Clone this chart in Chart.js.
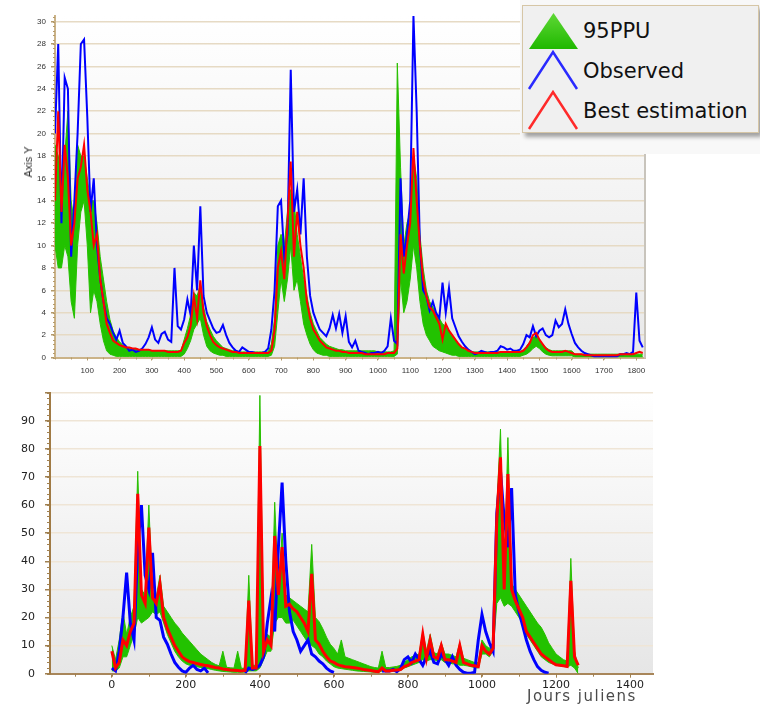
<!DOCTYPE html>
<html>
<head>
<meta charset="utf-8">
<script src="https://cdn.jsdelivr.net/npm/chart.js@4.4.1/dist/chart.umd.min.js"></script>
<style>
    body { margin: 0; background: #fff; }
    #page { position: relative; width: 760px; height: 707px; overflow: hidden; background: #fff; }
    canvas { position: absolute; left: 0; }
    #topChart { top: 0; }
    #bottomChart { top: 376px; }
    .axis-y {
        position: absolute; left: 28px; top: 162px;
        transform: translate(-50%, -50%) rotate(-90deg);
        font: 11px "Liberation Sans"; color: #333; white-space: nowrap;
    }
    .jours { position: absolute; left: 527px; top: 687px; font: 15px "DejaVu Sans"; letter-spacing: 1.5px; color: #4a4a4a; white-space: nowrap; }
    #patch { position: absolute; left: 520px; top: 0; width: 240px; height: 154px; background: #f8f8f8; }
    #legend {
        position: absolute; left: 522px; top: 5px; width: 235px; height: 126px;
        background: #f0f0f0; border: 1px solid #d6c6a6;
        box-shadow: 3px 4px 4px rgba(0, 0, 0, 0.35);
    }
    #legend svg { position: absolute; left: 0; top: 0; }
    #legend text { font: 21px "DejaVu Sans"; fill: #111; }
</style>
</head>
<body>
<div id="page">
    <canvas id="topChart" width="760" height="380"></canvas>
    <canvas id="bottomChart" width="760" height="331"></canvas>
    <div class="axis-y">Axis Y</div>
    <div class="jours">Jours juliens</div>
    <div id="patch"></div>
    <div id="legend">
        <svg width="235" height="126">
            <defs>
                <linearGradient id="tri" x1="0" y1="0" x2="0" y2="1">
                    <stop offset="0" stop-color="#5fd836"/>
                    <stop offset="1" stop-color="#1fb800"/>
                </linearGradient>
            </defs>
            <polygon points="30.5,7 6,43 55,43" fill="url(#tri)"/>
            <polyline points="6,83 30,46 54,83" fill="none" stroke="#2a2aff" stroke-width="2.5"/>
            <polyline points="6,123 30,86 54,123" fill="none" stroke="#ff2a2a" stroke-width="2.5"/>
            <text x="60" y="32">95PPU</text>
            <text x="60" y="72">Observed</text>
            <text x="60" y="112">Best estimation</text>
        </svg>
    </div>
</div>
<script>
// sampling step (days) of every series below
const stepTop = 10;
const stepBottom = 10;

// ---- top panel, day 0 .. 1820 ----
const obsTop = [
    20, 28, 12, 25, 24, 9, 14, 20, 28, 28.4,
    21.5, 13, 16, 10, 7, 5, 3.5, 3, 2.2, 1.6,
    2.4, 1.3, 1.0, 0.6, 0.7, 0.5, 0.6, 0.8, 1.2, 1.8,
    2.7, 1.6, 1.3, 2.1, 2.3, 1.6, 1.4, 8, 2.8, 2.5,
    3.4, 5.2, 3.8, 10, 6, 13.5, 5.5, 4, 3.3, 2.6,
    2.2, 2.3, 2.9, 2.0, 1.3, 0.9, 0.6, 0.5, 0.9, 0.7,
    0.5, 0.5, 0.4, 0.4, 0.4, 0.5, 0.8, 2.5, 6, 13.5,
    14, 9, 11, 25.7, 13, 15, 11, 16, 9, 5.5,
    4, 3.2, 2.5, 2.2, 1.9, 2.6, 3.8, 2.6, 3.9, 2.2,
    3.7, 1.4, 0.9, 1.5, 0.6, 0.5, 0.4, 0.3, 0.4, 0.4,
    0.5, 0.4, 0.6, 1.0, 3.5, 1.5, 1.2, 16, 9, 11,
    14, 30.5, 22, 10, 6, 5.5, 4.2, 5, 4, 3.5,
    6.7, 4, 6.2, 3.5, 2.7, 1.9, 1.4, 1.0, 0.7, 0.5,
    0.3, 0.4, 0.6, 0.5, 0.4, 0.5, 0.5, 0.6, 1.0, 0.9,
    0.7, 0.8, 0.6, 0.6, 0.7, 1.2, 2.0, 1.8, 2.8, 1.9,
    2.4, 2.6, 2.0, 1.8, 2.0, 3.3, 2.7, 3.0, 4.3, 3.0,
    2.1, 1.3, 0.9, 0.6, 0.4, 0.3, 0.2, 0.1, 0.1, 0.1,
    0.1, 0.1, 0.1, 0.1, 0.1, 0.3, 0.3, 0.4, 0.3, 0.5,
    5.8, 1.5, 0.9
];
const bestTop = [
    14, 22, 13, 19, 16, 10, 12, 16, 17, 19,
    15, 13, 10, 11, 7, 5, 3, 2.2, 1.5, 1.3,
    1.1, 1.0, 0.9, 0.9, 0.8, 0.8, 0.7, 0.7, 0.7, 0.7,
    0.6, 0.6, 0.6, 0.6, 0.6, 0.5, 0.5, 0.5, 0.5, 0.6,
    1.3, 1.8, 2.8, 5.5, 3.5, 6.9, 4.0, 2.8, 2.0, 1.4,
    1.1, 0.9, 0.8, 0.7, 0.6, 0.5, 0.5, 0.4, 0.4, 0.4,
    0.4, 0.4, 0.4, 0.4, 0.4, 0.4, 0.4, 0.6, 2.5, 8,
    9.5, 7, 12, 17.5, 9, 13, 10, 8, 5, 3.5,
    2.5, 2.0, 1.5, 1.2, 0.9, 0.8, 0.7, 0.6, 0.6, 0.5,
    0.5, 0.4, 0.4, 0.4, 0.4, 0.4, 0.3, 0.3, 0.3, 0.3,
    0.3, 0.3, 0.3, 0.4, 0.4, 0.4, 0.8, 11, 7.5, 10,
    12, 18.7, 14, 10, 7, 5.5, 4.5, 4.2, 3.6, 3.0,
    1.6, 3.0, 2.4, 2.0, 1.6, 1.2, 0.9, 0.8, 0.6, 0.5,
    0.4, 0.4, 0.4, 0.4, 0.4, 0.4, 0.4, 0.4, 0.5, 0.5,
    0.5, 0.5, 0.5, 0.5, 0.5, 0.6, 0.9, 1.3, 2.0, 2.2,
    1.6, 1.2, 0.8, 0.6, 0.5, 0.5, 0.5, 0.5, 0.6, 0.5,
    0.4, 0.3, 0.3, 0.3, 0.2, 0.2, 0.2, 0.2, 0.2, 0.2,
    0.2, 0.2, 0.2, 0.2, 0.2, 0.3, 0.3, 0.3, 0.3, 0.3,
    0.4, 0.5, 0.4
];
const ppuLowTop = [
    10, 8, 8, 10, 9, 5, 3.5, 10, 13, 14,
    10, 4, 6, 5, 3, 1.5, 0.6, 0.3, 0.2, 0.1,
    0.1, 0.1, 0.1, 0.1, 0.1, 0.1, 0.1, 0.1, 0.1, 0.1,
    0.1, 0.1, 0.1, 0.1, 0.1, 0.1, 0.1, 0.1, 0.1, 0.1,
    0.3, 0.8, 1.5, 2.5, 3, 3.5, 2, 1, 0.6, 0.4,
    0.3, 0.2, 0.2, 0.1, 0.1, 0.1, 0.1, 0.1, 0.1, 0.1,
    0.1, 0.1, 0.1, 0.1, 0.1, 0.1, 0.1, 0.2, 1, 4,
    7, 5, 7, 10, 6, 7, 5, 3, 2, 1.2,
    0.7, 0.4, 0.3, 0.2, 0.2, 0.1, 0.1, 0.1, 0.1, 0.1,
    0.1, 0.1, 0.1, 0.1, 0.1, 0.1, 0.1, 0.1, 0.1, 0.1,
    0.1, 0.1, 0.1, 0.1, 0.1, 0.1, 0.3, 7, 4, 5,
    7, 10, 8, 5, 3, 2, 1.5, 1, 0.8, 0.6,
    0.5, 0.4, 0.3, 0.2, 0.2, 0.1, 0.1, 0.1, 0.1, 0.1,
    0.1, 0.1, 0.1, 0.1, 0.1, 0.1, 0.1, 0.1, 0.1, 0.1,
    0.1, 0.1, 0.1, 0.1, 0.1, 0.2, 0.3, 0.5, 0.8, 1.0,
    0.8, 0.5, 0.3, 0.2, 0.15, 0.15, 0.15, 0.15, 0.15, 0.15,
    0.15, 0.05, 0.05, 0.05, 0.05, 0.05, 0.05, 0.05, 0.05, 0.05,
    0.05, 0.05, 0.05, 0.05, 0.05, 0.05, 0.05, 0.05, 0.05, 0.05,
    0.05, 0.05, 0.05
];
const ppuHighTop = [
    19, 18, 16, 18, 22, 14, 12, 19, 18, 18,
    16, 14, 14, 12, 9, 7, 5, 3.4, 2.4, 1.8,
    1.4, 1.1, 0.9, 0.9, 0.8, 0.8, 0.7, 0.7, 0.7, 0.7,
    0.6, 0.6, 0.6, 0.6, 0.6, 0.6, 0.6, 0.6, 0.6, 0.6,
    1.6, 2.6, 3.8, 5.8, 5.5, 6.5, 4.5, 3.2, 2.5, 1.9,
    1.5, 1.2, 0.9, 0.8, 0.7, 0.6, 0.6, 0.5, 0.5, 0.5,
    0.5, 0.5, 0.5, 0.5, 0.5, 0.5, 0.5, 1.2, 3.5, 10,
    11, 10, 13, 15, 14, 11, 9, 7, 5.5, 4,
    3, 2.4, 1.8, 1.5, 1.2, 1.0, 0.9, 0.8, 0.7, 0.7,
    0.6, 0.6, 0.6, 0.6, 0.6, 0.6, 0.6, 0.6, 0.6, 0.6,
    0.5, 0.5, 0.5, 0.5, 0.5, 0.6, 26.3, 17, 10, 12,
    13, 18, 16, 11, 8, 6, 5, 4.5, 4, 3.5,
    3, 2.8, 2.4, 2, 1.6, 1.2, 0.9, 0.7, 0.6, 0.5,
    0.5, 0.5, 0.5, 0.5, 0.5, 0.5, 0.5, 0.5, 0.5, 0.5,
    0.5, 0.5, 0.5, 0.5, 0.5, 0.7, 1.0, 1.4, 1.8, 1.9,
    1.6, 1.2, 0.9, 0.7, 0.6, 0.6, 0.6, 0.6, 0.6, 0.6,
    0.6, 0.3, 0.3, 0.3, 0.3, 0.3, 0.3, 0.3, 0.3, 0.3,
    0.3, 0.3, 0.3, 0.3, 0.3, 0.3, 0.3, 0.3, 0.3, 0.3,
    0.3, 0.3, 0.3
];
const yTicksTop = [0, 2, 4, 6, 8, 10, 12, 14, 16, 18, 20, 22, 24, 26, 28, 30];
const xTicksTop = [100, 200, 300, 400, 500, 600, 700, 800, 900, 1000, 1100, 1200, 1300, 1400, 1500, 1600, 1700, 1800];

// ---- bottom panel, day 0 .. 1260 ----
const obsBottom = [
    2, 1, 8, 20, 36, 18, 12, 45, 60, 35,
    30, 43, 20, 19, 13, 10.5, 7, 4, 2.3, 1,
    0.5, 2, 3, 1.5, 1, 2, 0.3, null, null, null,
    null, null, null, null, null, null, 0.3, 2, 1.5, 2,
    3, 6, 18, 27, 15, 45, 68, 40, 22, 15,
    12, 8, 10, 12, 7, 6, 4.5, 3.5, 2, 1,
    0.5, null, null, null, null, null, null, null, null, null,
    null, null, null, 1, 1, 1, 1.5, 0.7, 1.8, 5,
    6, 4, 7, 5, 3, 6, 8, 4, 3.5, 7,
    5, 3, 6, 3, 1.5, 0.5, 0.2, 0.2, 0.5, 12,
    21, 15, 11, 8, 57, 72, 55, 45, 66, 28,
    22, 17, 12, 8, 5, 2.5, 1.2, 0.5, 0.2, null,
    null, null, null, null, null, null, null
];
const bestBottom = [
    8, 2, 4, 12, 10, 15, 18, 64, 28, 25,
    52, 27, 25, 32, 20, 16, 13, 10, 8, 6,
    5, 4.3, 4, 3.6, 3.3, 3, 2.8, 2.5, 2.2, 2,
    1.7, 1.5, 1.3, 1.2, 1.1, 1.0, 1.2, 26, 2, 2,
    81, 8, 12, 10, 49, 28, 45, 24, 24.7, 23,
    22, 20, 18, 15, 35.5, 12, 10.5, 8, 6, 4.5,
    4, 3.2, 2.8, 2.5, 2.4, 2.2, 2, 1.8, 1.5, 1.3,
    1.1, 0.9, 0.7, 2, 1, 1, 1.2, 1.3, 1.5, 2.5,
    3, 4, 4.5, 5, 14, 5.5, 12, 6, 5.5, 10,
    5, 5, 4.5, 4, 10, 4, 3.5, 3, 2.8, 2.5,
    10, 8, 7, 9, 55, 77, 30, 71, 30, 26,
    23, 20, 15, 13, 11, 9, 7, 6, 5, 4,
    3.2, 3, 2.8, 2.6, 33, 6, 3
];
const ppuLowBottom = [
    1, 1, 2, 6, 6, 10, 14, 20, 18, 19,
    20, 22, 21, 22, 18, 14, 11, 8, 6, 4.5,
    3.5, 3, 2.8, 2.5, 2.2, 2, 1.8, 1.5, 1.2, 1.0,
    0.8, 0.7, 0.6, 0.5, 0.5, 0.5, 0.6, 1, 1, 1,
    2, 5, 8, 8, 18, 20, 20, 18, 18, 19,
    17, 15, 13, 11, 10, 9, 7, 6, 4.5, 3.5,
    2.5, 2, 1.8, 1.6, 1.4, 1.2, 1.0, 0.9, 0.8, 0.7,
    0.6, 0.5, 0.4, 1, 0.8, 0.8, 0.9, 1, 1.2, 2,
    2.5, 3, 3.5, 4, 5, 4.5, 5, 5, 4.5, 5,
    4, 4, 3.5, 3.5, 3, 3, 2.8, 2.5, 2.2, 2,
    7, 7, 6, 8, 25, 27, 24, 25, 24, 22,
    20, 18, 14, 12, 10, 8, 6, 5, 4, 3.5,
    3, 2.8, 2.6, 2.4, 3, 2, 0
];
const ppuHighBottom = [
    10, 5, 12, 22, 14, 20, 24, 72, 30, 28,
    60, 29, 27, 35, 24, 22, 20, 18, 16.5, 14.5,
    13, 11.5, 10, 8.5, 7, 6, 5, 4, 3.3, 2.8,
    8, 2.3, 2.1, 2, 8, 1.9, 2, 35, 3, 3,
    99, 10, 14, 13, 61, 30, 50, 28, 27, 26,
    25, 24, 23, 22, 46, 20, 18.5, 16, 13, 10.5,
    9, 7, 12, 6, 5.5, 5, 4.5, 4, 3.5, 3,
    2.5, 2.2, 2, 8, 2.2, 2.2, 2.4, 2.6, 3, 4,
    5, 6, 6.5, 7, 15, 8, 14, 7.5, 7, 11,
    7, 7, 6.5, 6, 11, 5.5, 5, 4.5, 4, 4,
    12, 10, 9, 11, 59, 87, 34, 84, 32, 30,
    28, 26, 24, 22, 20, 18, 16.5, 14, 11, 9,
    7, 6, 5, 4.5, 41, 8, 2
];
const yTicksBottom = [0, 10, 20, 30, 40, 50, 60, 70, 80, 90, 100];
const xTicksBottom = [0, 200, 400, 600, 800, 1000, 1200, 1400];

function toPoints(values, step) {
    return values.map((v, i) => ({ x: i * step, y: v }));
}

// gradient behind the plot area
const plotBackground = {
    id: 'plotBackground',
    beforeDraw(chart, args, opts) {
        const { ctx, chartArea: a } = chart;
        const g = ctx.createLinearGradient(0, a.top, 0, a.bottom);
        g.addColorStop(0, opts.top);
        g.addColorStop(1, opts.bottom);
        ctx.save();
        ctx.fillStyle = g;
        ctx.fillRect(a.left, a.top, a.right - a.left, a.bottom - a.top);
        ctx.restore();
    }
};

// small ticks between the labelled ones, plus an optional right frame
const minorTicks = {
    id: 'minorTicks',
    afterDraw(chart, args, opts) {
        const { ctx, chartArea: a, scales: { x, y } } = chart;
        ctx.save();
        ctx.strokeStyle = opts.color;
        ctx.lineWidth = 1;
        ctx.beginPath();
        const ny = Math.floor((y.max - y.min) / opts.yStep + 1e-6);
        for (let i = 0; i <= ny; i++) {
            const p = Math.round(y.getPixelForValue(y.min + i * opts.yStep)) + 0.5;
            ctx.moveTo(a.left - opts.len, p);
            ctx.lineTo(a.left, p);
        }
        const x0 = Math.ceil(x.min / opts.xStep) * opts.xStep;
        for (let v = x0; v <= x.max; v += opts.xStep) {
            const p = Math.round(x.getPixelForValue(v)) + 0.5;
            ctx.moveTo(p, a.bottom);
            ctx.lineTo(p, a.bottom + opts.len);
        }
        ctx.stroke();
        if (opts.rightBorder) {
            ctx.strokeStyle = opts.rightBorder;
            ctx.lineWidth = 2;
            ctx.beginPath();
            ctx.moveTo(a.right, a.top);
            ctx.lineTo(a.right, a.bottom + 1);
            ctx.stroke();
        }
        ctx.restore();
    }
};

function makeDatasets(best, obs, high, low, step, widths) {
    return [
        { label: 'Best estimation', data: toPoints(best, step), borderColor: '#ff0000', borderWidth: widths[0], fill: false },
        { label: 'Observed', data: toPoints(obs, step), borderColor: '#0000ff', borderWidth: widths[1], fill: false },
        { label: '95PPU', data: toPoints(high, step), borderColor: '#28c000', borderWidth: 1, backgroundColor: '#22c200', fill: '+1' },
        { label: '95PPU low', data: toPoints(low, step), borderColor: '#28c000', borderWidth: 1, fill: false }
    ];
}

const topFont = { family: 'Liberation Sans', size: 8 };
const bottomFont = { family: 'DejaVu Sans', size: 11 };
const plain = v => String(v);

new Chart(document.getElementById('topChart'), {
    type: 'line',
    data: { datasets: makeDatasets(bestTop, obsTop, ppuHighTop, ppuLowTop, stepTop, [2, 2]) },
    options: {
        responsive: false,
        animation: false,
        events: [],
        layout: { padding: { left: 0, right: 115, top: 16, bottom: 0 } },
        elements: { point: { radius: 0 }, line: { tension: 0 } },
        scales: {
            x: {
                type: 'linear', min: 0, max: 1827,
                afterBuildTicks: s => { s.ticks = xTicksTop.map(v => ({ value: v })); },
                afterFit: s => { s.height = 22.5; },
                grid: { drawOnChartArea: false, tickLength: 3, tickColor: '#b49a6a' },
                border: { color: '#cbb388', width: 2 },
                ticks: { font: topFont, color: '#333', padding: 5, maxRotation: 0, autoSkip: false, callback: plain }
            },
            y: {
                min: 0, max: 30.5,
                afterBuildTicks: s => { s.ticks = yTicksTop.map(v => ({ value: v })); },
                afterFit: s => { s.width = 55; },
                grid: { color: '#e6dac4', lineWidth: 1.5, tickLength: 4, tickColor: '#b49a6a' },
                border: { color: '#cbb388', width: 2 },
                ticks: { font: topFont, color: '#333', padding: 5, callback: plain }
            }
        },
        plugins: {
            legend: { display: false },
            tooltip: { enabled: false },
            plotBackground: { top: '#ffffff', bottom: '#e9e9e9' },
            minorTicks: { yStep: 0.4, xStep: 50, len: 2, color: '#b49a6a', rightBorder: '#c8c4bc' }
        }
    },
    plugins: [plotBackground, minorTicks]
});

new Chart(document.getElementById('bottomChart'), {
    type: 'line',
    data: { datasets: makeDatasets(bestBottom, obsBottom, ppuHighBottom, ppuLowBottom, stepBottom, [3, 3]) },
    options: {
        responsive: false,
        animation: false,
        events: [],
        layout: { padding: { left: 0, right: 107, top: 8, bottom: 0 } },
        elements: { point: { radius: 0 }, line: { tension: 0 } },
        scales: {
            x: {
                type: 'linear', min: -167, max: 1462,
                afterBuildTicks: s => { s.ticks = xTicksBottom.map(v => ({ value: v })); },
                afterFit: s => { s.height = 33.3; },
                grid: { drawOnChartArea: false, tickLength: 4, tickColor: '#a08050' },
                border: { color: '#a8865a', width: 2 },
                ticks: { font: bottomFont, color: '#222', padding: 1, maxRotation: 0, autoSkip: false, callback: plain }
            },
            y: {
                min: 0, max: 100,
                afterBuildTicks: s => { s.ticks = yTicksBottom.map(v => ({ value: v })); },
                afterFit: s => { s.width = 50; },
                grid: { color: '#efe5d6', lineWidth: 1.5, tickLength: 5, tickColor: '#a08050' },
                border: { color: '#a07a44', width: 2 },
                ticks: { font: bottomFont, color: '#222', padding: 10, callback: v => (v === 100 ? '' : String(v)) }
            }
        },
        plugins: {
            legend: { display: false },
            tooltip: { enabled: false },
            plotBackground: { top: '#ffffff', bottom: '#e6e6e6' },
            minorTicks: { yStep: 2, xStep: 100, len: 3, color: '#a08050' }
        }
    },
    plugins: [plotBackground, minorTicks]
});
</script>
</body>
</html>
